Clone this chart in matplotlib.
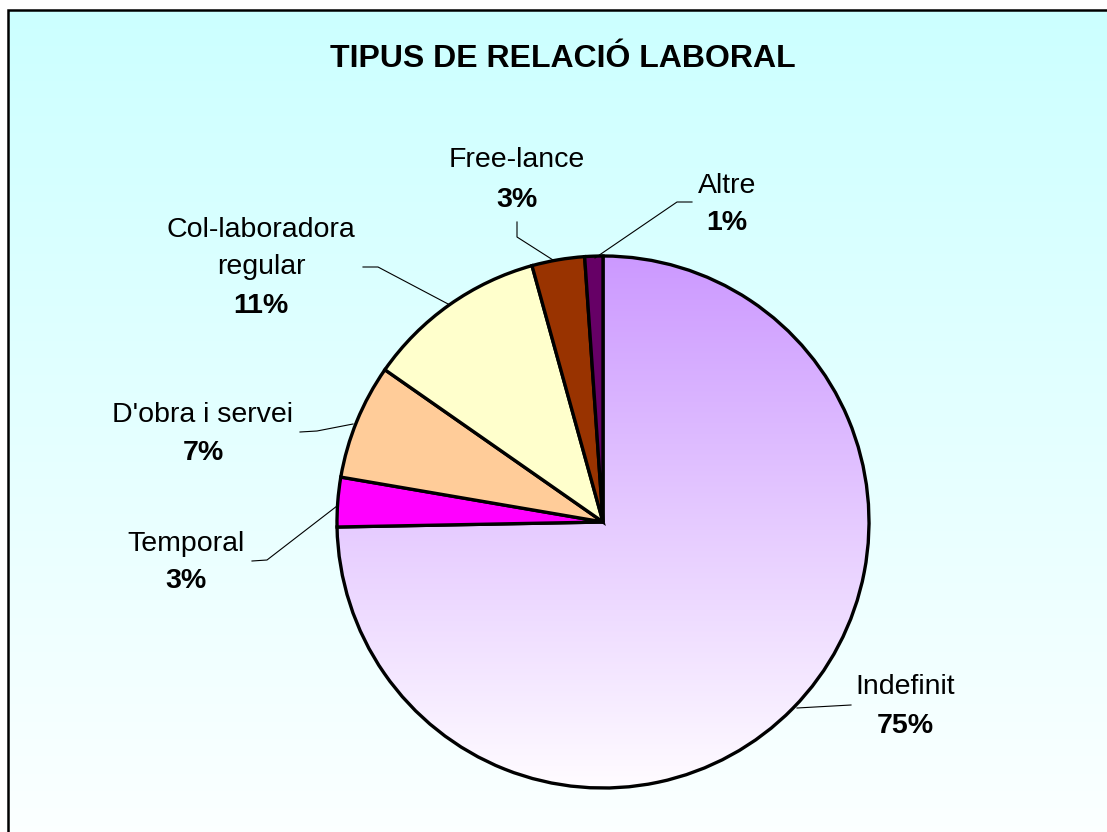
import numpy as np
import matplotlib.pyplot as plt
from matplotlib.colors import LinearSegmentedColormap
from matplotlib.patches import Rectangle

plt.rcParams['font.family'] = ['Liberation Sans', 'DejaVu Sans']

# data
categories = ['Indefinit', 'Temporal', "D'obra i servei", 'Col-laboradora\nregular',
              'Free-lance', 'Altre']
values = [74.7, 3.0, 7.0, 11.0, 3.2, 1.1]
pct_labels = ['75%', '3%', '7%', '11%', '3%', '1%']
colors = ['#CC99FF', '#FF00FF', '#FFCC99', '#FFFFCC', '#993300', '#660066']

W, H = 1107, 832
fig = plt.figure(figsize=(W / 100, H / 100), dpi=100)
ax = fig.add_axes([0, 0, 1, 1])


def py(y):
    # pixel row -> data y
    return H - y


# background gradient
bg_cmap = LinearSegmentedColormap.from_list('bg', ['#FFFFFF', '#CCFFFF'])
ax.imshow(np.linspace(0, 1, 256).reshape(-1, 1)[::-1], cmap=bg_cmap,
          extent=[8, W + 10, py(900), py(10)], aspect='auto', zorder=0,
          interpolation='bicubic')
ax.add_patch(Rectangle((8, py(1000)), 1200, 990, fill=False, edgecolor='black',
                       linewidth=1.8, zorder=1))

cx, cy, r = 603, py(522), 266
wedges, _ = ax.pie(values, colors=colors, startangle=90, counterclock=False,
                   center=(cx, cy), radius=r, frame=True,
                   wedgeprops=dict(edgecolor='black', linewidth=2.4, zorder=3))

# gradient fill for the big slice
g_cmap = LinearSegmentedColormap.from_list('ind', ['#FFFCFF', '#CC99FF'])
im = ax.imshow(np.linspace(0, 1, 256).reshape(-1, 1)[::-1], cmap=g_cmap,
               extent=[cx - r, cx + r, cy - r, cy + r], aspect='auto', zorder=2.5,
               interpolation='bicubic')
im.set_clip_path(wedges[0])
wedges[0].set_facecolor('none')

# labels (name, percent) and leader lines
label_pos = [(905, 694, 733), (186, 551, 588), (203, 422, 460),
             (261, 237, 313), (517, 167, 207), (727, 193, 230)]
leaders = [
    [(851, 705), (797, 708)],
    [(252, 561), (267, 560), (337, 506)],
    [(300, 432), (317, 431), (353, 424)],
    [(363, 267), (378, 267), (450, 305)],
    [(517, 222), (517, 237), (553, 260)],
    [(692, 202), (677, 202), (595, 258)],
]
for name, pct, (x, yb1, yb2), pts in zip(categories, pct_labels, label_pos, leaders):
    if '\n' in name:
        first, second = name.split('\n')
        ax.text(x, py(yb1), first, ha='center', va='baseline', fontsize=20.5, zorder=5)
        ax.text(x, py(274), second, ha='center', va='baseline', fontsize=20.5, zorder=5)
    else:
        ax.text(x, py(yb1), name, ha='center', va='baseline', fontsize=20.5, zorder=5)
    ax.text(x, py(yb2), pct, ha='center', va='baseline', fontsize=20.5,
            fontweight='bold', zorder=5)
    xs, ys = zip(*pts)
    ax.plot(xs, [py(v) for v in ys], color='black', linewidth=0.8, zorder=4)

ax.text(563, py(67), 'TIPUS DE RELACIÓ LABORAL', ha='center', va='baseline',
        fontsize=23, fontweight='bold', zorder=5)

ax.set_xlim(0, W)
ax.set_ylim(0, H)
ax.set_aspect('auto')
ax.axis('off')

fig.savefig('out.png', dpi=100)
